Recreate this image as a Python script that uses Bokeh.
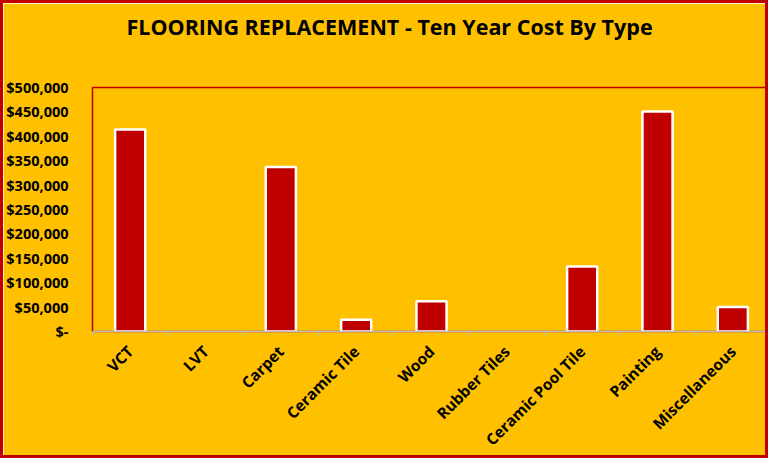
import math
from bokeh.plotting import figure
from bokeh.models import Range1d, FixedTicker, CustomJSTickFormatter, ColumnDataSource, Title
from bokeh.embed import file_html
from bokeh.resources import INLINE

title_text = "FLOORING REPLACEMENT - Ten Year Cost By Type"
categories = ["VCT", "LVT", "Carpet", "Ceramic Tile", "Wood", "Rubber Tiles",
              "Ceramic Pool Tile", "Painting", "Miscellaneous"]
costs = [414000, 0, 337000, 24000, 62000, 0, 133000, 451000, 50000]
y_ticks = [0, 50000, 100000, 150000, 200000, 250000, 300000, 350000, 400000, 450000, 500000]
y_tick_labels = ["$-", "$50,000", "$100,000", "$150,000", "$200,000", "$250,000",
                 "$300,000", "$350,000", "$400,000", "$450,000", "$500,000"]

GOLD = "#FFC000"
RED = "#C00000"

xs = [i + 0.5 for i, c in enumerate(costs) if c > 0]
tops = [c for c in costs if c > 0]
src = ColumnDataSource(dict(x=xs, top=tops))

p = figure(width=768, height=458, output_backend="svg", toolbar_location=None,
           x_range=Range1d(0, len(categories)), y_range=Range1d(0, y_ticks[-1]),
           min_border_left=87, min_border_right=1, min_border_top=0, min_border_bottom=130)
p.styles = {"border": "3px solid " + RED}
p.background_fill_color = GOLD
p.border_fill_color = GOLD
p.outline_line_color = RED
p.outline_line_width = 1.5
p.grid.visible = False

p.title = Title(text=title_text, align="left", offset=34, standoff=12,
                text_font="Open Sans", text_font_style="bold",
                text_font_size="21.5px", text_color="black")
# spacer between title and plot area
p.add_layout(Title(text="\u00a0", standoff=28, text_font_size="10px",
                   text_color=GOLD), "above")

p.vbar(x="x", top="top", width=0.4, source=src, fill_color=RED,
       line_color="white", line_width=2.5)

# x axis
p.xaxis.ticker = FixedTicker(ticks=[i + 0.5 for i in range(len(categories))],
                             minor_ticks=list(range(len(categories) + 1)))
p.xaxis.formatter = CustomJSTickFormatter(args=dict(labels=categories),
                                          code="return labels[Math.floor(tick)];")
p.xaxis.major_label_orientation = math.pi / 4
p.xaxis.major_tick_line_color = None
p.xaxis.minor_tick_line_color = "#bfbfbf"
p.xaxis.minor_tick_out = 5
p.xaxis.minor_tick_in = 0
p.xaxis.axis_line_color = "#bfbfbf"
p.xaxis.axis_line_width = 1.5
p.xaxis.major_label_standoff = 11
p.xaxis.major_label_text_font_size = "15.5px"

# y axis
p.yaxis.ticker = FixedTicker(ticks=y_ticks)
p.yaxis.major_label_overrides = {t: l for t, l in zip(y_ticks, y_tick_labels)}
p.yaxis.axis_line_color = None
p.yaxis.major_tick_line_color = None
p.yaxis.minor_tick_line_color = None
p.yaxis.major_label_standoff = 18
p.yaxis.major_label_text_font_size = "14.5px"

for ax in (p.xaxis, p.yaxis):
    ax.major_label_text_font = "Open Sans"
    ax.major_label_text_font_style = "bold"
    ax.major_label_text_color = "black"

open("out.html", "w").write(file_html(p, INLINE))
